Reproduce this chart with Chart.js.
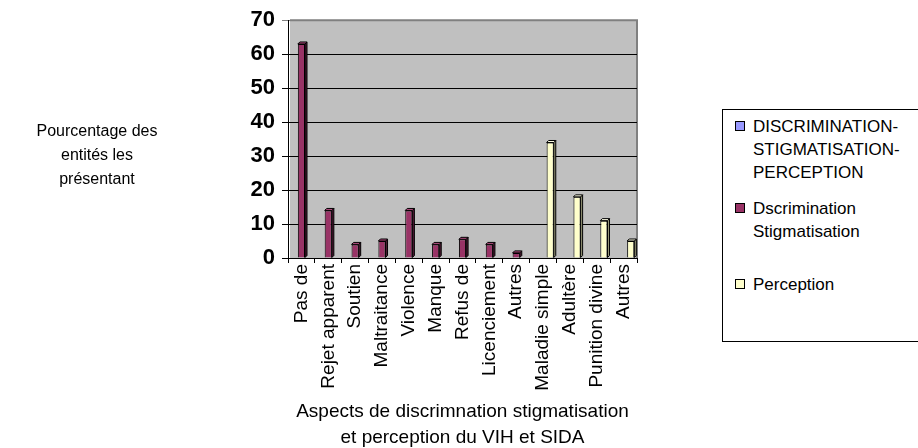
<!DOCTYPE html>
<html>
<head>
<meta charset="utf-8">
<script src="https://cdn.jsdelivr.net/npm/chart.js@4/dist/chart.umd.min.js"></script>
<style>
  html, body { margin: 0; padding: 0; background: #fff; overflow: hidden; }
  #wrap { position: relative; width: 918px; height: 448px; }
  #chart { position: absolute; left: 0; top: 0; }
  #legend {
    position: absolute; left: 722px; top: 109px; width: 220px; height: 233px;
    border: 1px solid #000; box-sizing: border-box; background: #fff;
    font-family: "Liberation Sans", Arial, sans-serif; font-size: 17px; color: #000;
  }
  .item { position: absolute; left: 30px; line-height: 23px; white-space: nowrap; }
  .sw { position: absolute; left: -18px; top: 6px; width: 8px; height: 8px; border: 1px solid #000; }
</style>
</head>
<body>
<div id="wrap">
  <canvas id="chart" width="918" height="448"></canvas>
  <div id="legend"></div>
</div>
<script>
// Categories along the horizontal axis
const categories = [
  "Pas de", "Rejet apparent", "Soutien", "Maltraitance", "Violence", "Manque",
  "Refus de", "Licenciement", "Autres", "Maladie simple", "Adultère",
  "Punition divine", "Autres"
];

// Series names (legend text, one line per entry)
const seriesNames = [
  ["DISCRIMINATION-", "STIGMATISATION-", "PERCEPTION"],
  ["Dscrimination", "Stigmatisation"],
  ["Perception"]
];

// Series values (percent of entities)
const totalSeries = [null, null, null, null, null, null, null, null, null, null, null, null, null];
const discriminationValues = [63, 14, 4, 5, 14, 4, 5.5, 4, 1.5, null, null, null, null];
const perceptionValues = [null, null, null, null, null, null, null, null, null, 34, 18, 11, 5];

// Value axis ticks
const yMin = 0, yMax = 70, yStep = 10;

const yTitleLines = ["Pourcentage des", "entités les", "présentant"];
const xTitleLines = ["Aspects de discrimnation stigmatisation", "et perception du VIH et SIDA"];

const FONT = '"Liberation Sans", Arial, sans-serif';

const palette = [
  { fill: "#9999FF", side: "#4d4d99", top: "#b3b3ff" },
  { fill: "#993366", side: "#4d1a33", top: "#b34d80" },
  { fill: "#FFFFCC", side: "#99997a", top: "#ffffe6" }
];

// Gray back wall of the plot with its outline
const wallPlugin = {
  id: "wall",
  beforeDraw(chart) {
    const { ctx, chartArea: a } = chart;
    ctx.save();
    ctx.fillStyle = "#C0C0C0";
    ctx.fillRect(a.left + 2, a.top, a.right - a.left - 2, a.bottom - a.top);
    ctx.strokeStyle = "#808080";
    ctx.lineWidth = 2;
    ctx.beginPath();
    ctx.moveTo(a.left + 2, a.top);
    ctx.lineTo(a.right, a.top);
    ctx.lineTo(a.right, a.bottom);
    ctx.stroke();
    ctx.restore();
  }
};

// Small side and top faces that give the columns some depth
const depthPlugin = {
  id: "depth",
  afterDatasetsDraw(chart) {
    const ctx = chart.ctx;
    const d = 2;
    chart.data.datasets.forEach((ds, i) => {
      const meta = chart.getDatasetMeta(i);
      const col = palette[i];
      meta.data.forEach((bar, j) => {
        if (ds.data[j] == null) return;
        const { x, y, base, width } = bar.getProps(["x", "y", "base", "width"], true);
        const l = x - width / 2, r = x + width / 2;
        ctx.save();
        ctx.lineWidth = 1;
        ctx.strokeStyle = "#000";
        ctx.beginPath();
        ctx.moveTo(r, y); ctx.lineTo(r + d, y - d); ctx.lineTo(r + d, base - d); ctx.lineTo(r, base);
        ctx.closePath();
        ctx.fillStyle = col.side; ctx.fill(); ctx.stroke();
        ctx.beginPath();
        ctx.moveTo(l, y); ctx.lineTo(l + d, y - d); ctx.lineTo(r + d, y - d); ctx.lineTo(r, y);
        ctx.closePath();
        ctx.fillStyle = col.top; ctx.fill(); ctx.stroke();
        ctx.restore();
      });
    });
  }
};

// Horizontal value-axis caption at the left
const yCaptionPlugin = {
  id: "yCaption",
  afterDraw(chart) {
    const ctx = chart.ctx;
    ctx.save();
    ctx.font = "16px " + FONT;
    ctx.fillStyle = "#000";
    ctx.textAlign = "center";
    ctx.textBaseline = "middle";
    yTitleLines.forEach((t, k) => ctx.fillText(t, 97, 132 + k * 24));
    ctx.restore();
  }
};

const datasets = [totalSeries, discriminationValues, perceptionValues].map((vals, i) => ({
  label: seriesNames[i].join(" "),
  data: vals,
  backgroundColor: palette[i].fill,
  borderColor: "#000",
  borderWidth: 1,
  categoryPercentage: 0.8,
  barPercentage: 1.0
}));

new Chart(document.getElementById("chart"), {
  type: "bar",
  data: { labels: categories, datasets },
  plugins: [wallPlugin, depthPlugin, yCaptionPlugin],
  options: {
    responsive: false,
    animation: false,
    layout: { padding: { top: 19, right: 281, bottom: 0, left: 0 } },
    plugins: { legend: { display: false }, tooltip: { enabled: false } },
    scales: {
      x: {
        afterFit(s) { s.height = 190; },
        grid: {
          offset: true, drawOnChartArea: false, drawTicks: true,
          tickLength: 5, color: "#000", lineWidth: 1
        },
        border: { color: "#000", width: 1 },
        ticks: {
          autoSkip: false, maxRotation: 90, minRotation: 90, padding: 1,
          color: "#000", font: { family: FONT, size: 19 }
        },
        title: {
          display: true, text: xTitleLines, color: "#000",
          font: { family: FONT, size: 19, lineHeight: 1.37 },
          padding: { top: 0, bottom: -3 }
        }
      },
      y: {
        min: yMin, max: yMax,
        afterFit(s) { s.width = 288; },
        grid: {
          drawTicks: true, tickLength: 6, lineWidth: 1,
          color: (c) => (c.tick && c.tick.value === yMax ? "#808080" : "#000")
        },
        border: { color: "#000", width: 1 },
        ticks: {
          stepSize: yStep, padding: 7, color: "#000",
          font: { family: FONT, size: 22, weight: "bold" }
        }
      }
    }
  }
});

// Legend entries built from the series names and colours
const legend = document.getElementById("legend");
const itemTops = [5, 87, 163];
seriesNames.forEach((lines, i) => {
  const it = document.createElement("div");
  it.className = "item";
  it.style.top = itemTops[i] + "px";
  const sw = document.createElement("span");
  sw.className = "sw";
  sw.style.background = palette[i].fill;
  it.appendChild(sw);
  lines.forEach((t, k) => {
    if (k) it.appendChild(document.createElement("br"));
    it.appendChild(document.createTextNode(t));
  });
  legend.appendChild(it);
});
</script>
</body>
</html>
